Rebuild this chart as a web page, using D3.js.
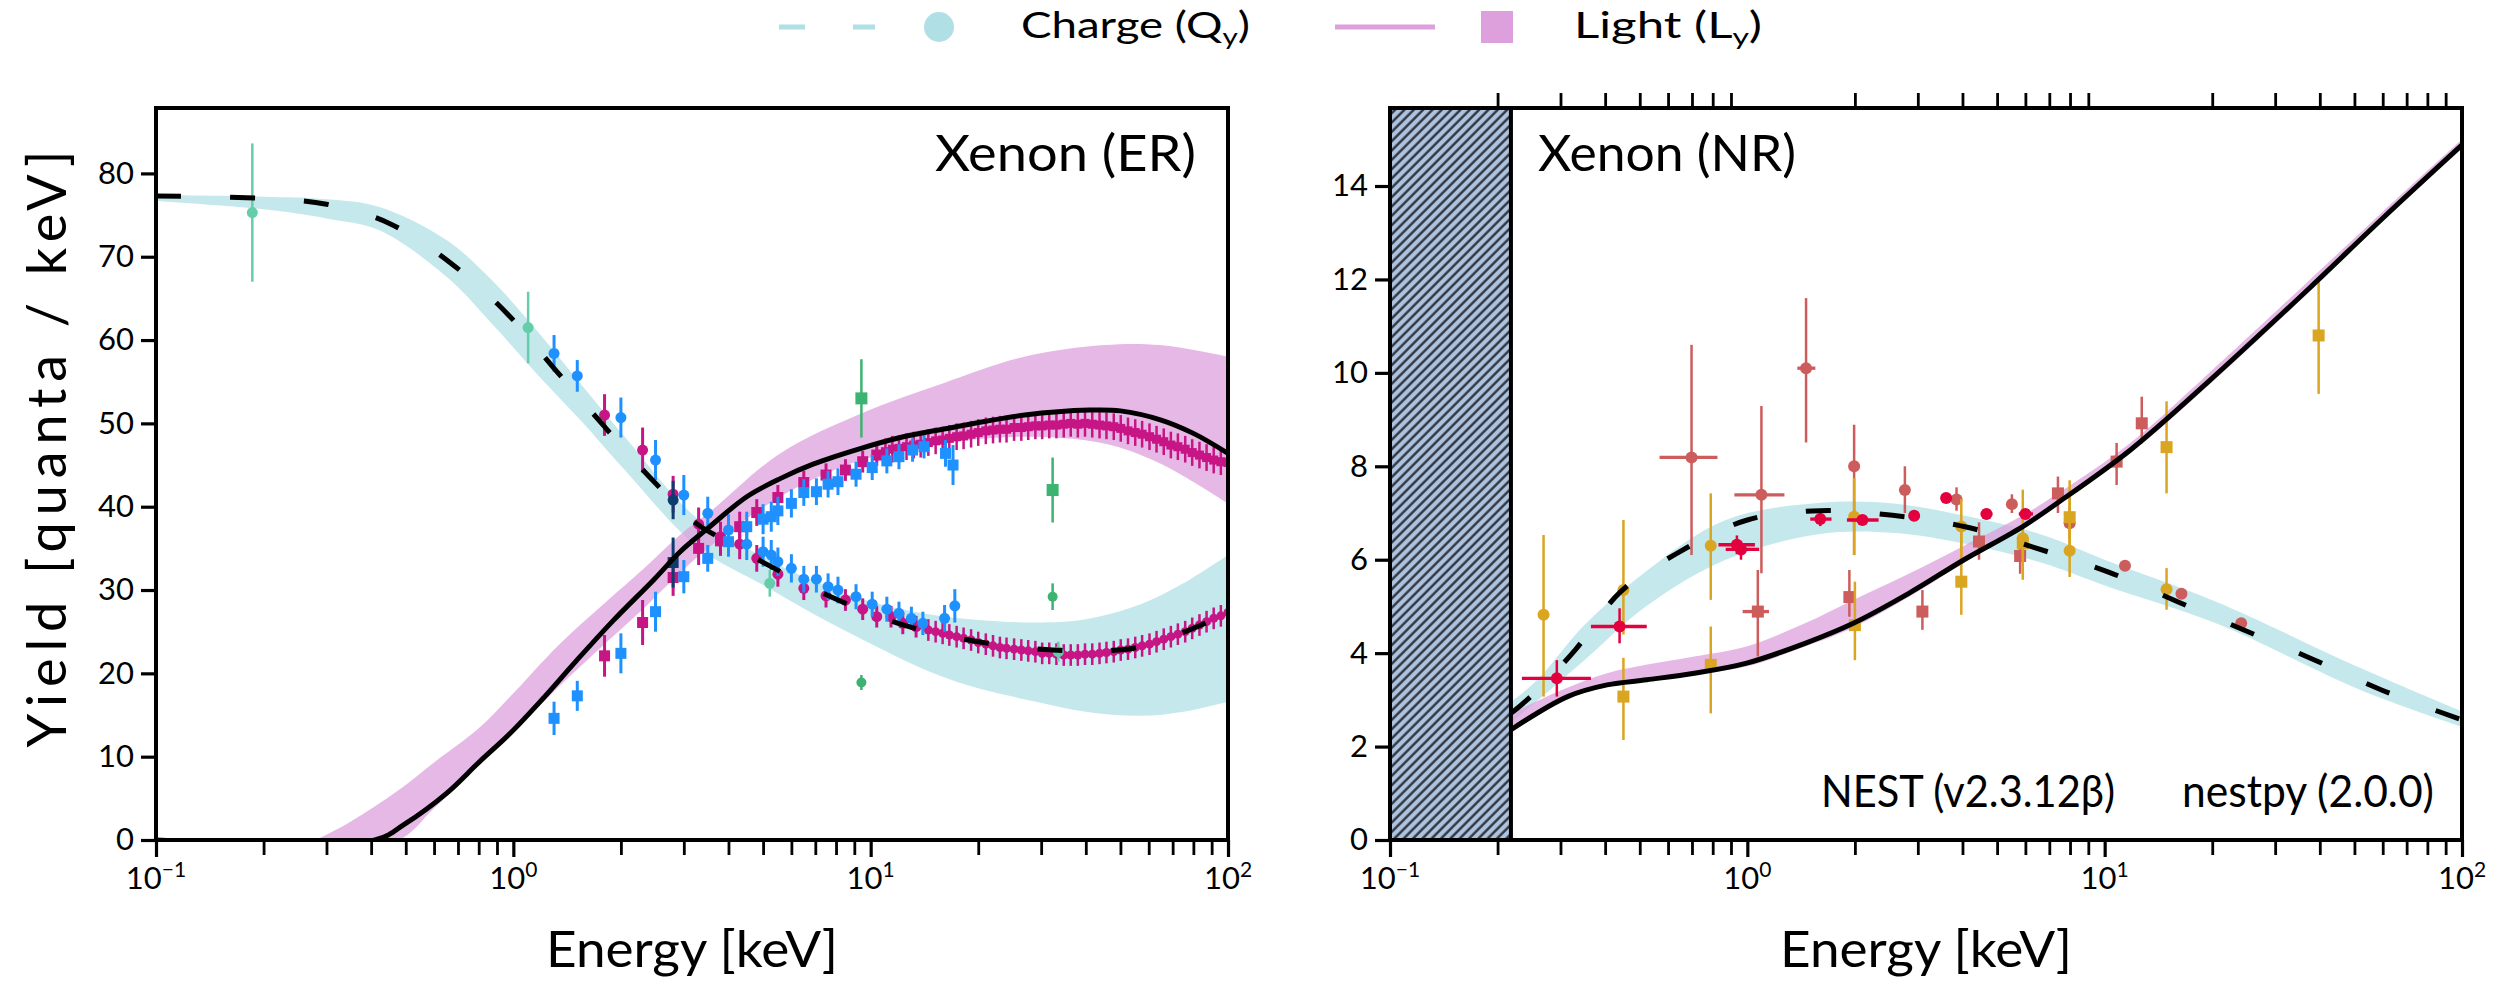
<!DOCTYPE html>
<html><head><meta charset="utf-8">
<script src="https://cdn.jsdelivr.net/npm/d3@7"></script>
<style>
body{margin:0;background:#fff}
svg{display:block}
text{font-family:Lato,"Noto Sans",sans-serif;fill:#000}
</style></head>
<body><svg id="c" width="2494" height="981"></svg>
<script>
// ================= DATA =================
const decadeTicks = [0.1, 1, 10, 100];
const decadeLabels = [["10","−1"],["10","0"],["10","1"],["10","2"]];
const minorTicks = [0.2,0.3,0.4,0.5,0.6,0.7,0.8,0.9,2,3,4,5,6,7,8,9,20,30,40,50,60,70,80,90];
const erYTicks = [0,10,20,30,40,50,60,70,80];
const nrYTicks = [0,2,4,6,8,10,12,14];
const panelTitles = ["Xenon (ER)", "Xenon (NR)"];
const versionLabels = ["NEST (v2.3.12β)", "nestpy (2.0.0)"];
const axisLabels = {x: "Energy [keV]", y: "Yield [quanta / keV]"};
const hatchMaxE = 0.218;

// ---- ER model curves [E, value] ----
const erQyLine = [[0.1,77.3],[0.2,77.0],[0.3,76.3],[0.45,74.0],[0.67,69.2],[0.96,63.2],[1.3,56.6],[1.8,49.6],[2.45,43.2],[3.25,38.0],[3.6,36.8],[5.06,33.2],[8.1,28.8],[12.8,25.6],[21.3,23.6],[32.3,22.8],[45,22.7],[57,23.2],[82,25.6],[100,27.4]];
const erLyLine = [[0.1,0],[0.41,0],[0.5,2.0],[0.65,5.6],[0.8,9.3],[0.98,12.8],[1.2,16.8],[1.5,21.5],[1.9,26.3],[2.48,31.3],[2.93,34.6],[3.5,37.4],[4.5,41.2],[5.6,43.4],[6.9,45.1],[9.4,47.0],[12.1,48.3],[15.9,49.3],[27,51.0],[41,51.6],[50,51.5],[65,50.4],[80,48.8],[100,46.4]];
// ---- ER bands [E, low, high] ----
const erQyBand = [[0.1,76.7,77.4],[0.2,75.7,77.2],[0.3,74.6,76.9],[0.42,73.2,76.0],[0.65,67.6,72.0],[0.87,62.0,67.2],[1.16,56.0,61.2],[1.54,50.4,54.8],[2.05,44.4,48.4],[3.27,35.2,38.6],[5.0,30.6,34.0],[7.0,27.0,31.0],[10.4,23.2,28.4],[15,20.0,27.0],[20,18.2,26.4],[29,16.6,26.1],[40,15.4,26.5],[57,14.9,28.3],[75,15.4,30.8],[100,16.6,34.2]];
const erLyBand = [[0.28,0,0],[0.35,0,2.2],[0.478,0,6.0],[0.6,3.8,9.3],[0.8,8.9,13.4],[1.0,12.9,17.6],[1.34,18.4,23.4],[1.8,23.5,28.4],[2.24,27.2,32.0],[3.0,32.5,37.0],[3.6,35.4,39.6],[5.58,41.2,46.4],[9.4,45.6,51.2],[15.9,47.6,54.8],[26.9,48.4,58.0],[45,47.6,59.4],[64.6,45.2,59.4],[100,40.4,58.0]];

// ---- ER measurements [E, value, error] ----
const erBlueQy = [[1.30,58.4,2.2],[1.51,55.7,1.9],[2.0,50.7,2.4],[2.5,45.6,2.4],[3.0,41.4,2.4],[3.5,39.2,2.0],[4.0,37.2,1.9],[4.5,35.5,1.9],[5.0,34.6,1.8],[5.27,34.2,1.8],[5.5,33.4,1.7],[6.0,32.6,1.7],[6.5,31.3,1.6],[7.05,31.3,1.6],[7.6,30.4,1.6],[8.1,30.0,1.6],[9.1,29.2,1.5],[10.1,28.3,1.5],[11.1,27.7,1.5],[12.0,27.2,1.4],[13.0,26.6,1.4],[14.0,26.0,1.4],[16.1,26.6,1.6],[17.2,28.1,2.0]];
const erBlueLy = [[1.30,14.6,2.0],[1.51,17.3,1.8],[2.0,22.4,2.4],[2.5,27.4,2.4],[3.0,31.6,2.0],[3.5,33.8,1.6],[4.0,35.8,1.8],[4.5,37.6,1.8],[5.0,38.5,1.8],[5.27,38.8,1.8],[5.5,39.5,1.7],[6.0,40.4,1.7],[6.5,41.7,1.6],[7.05,41.8,1.6],[7.6,42.7,1.6],[8.1,43.0,1.6],[9.1,43.9,1.5],[10.1,44.7,1.5],[11.1,45.5,1.5],[12.0,46.0,1.5],[13.1,46.8,1.4],[14.1,47.2,1.4],[16.2,46.4,1.6],[17.0,45.0,2.4]];
const erMagQy = [[1.8,51.0,2.5],[2.3,46.8,2.7],[2.8,41.5,2.2],[3.3,37.9,2.0],[3.8,36.4,1.8],[4.3,35.5,1.8],[4.8,33.8,1.6],[5.5,31.9,1.5],[6.5,30.2,1.4],[7.5,29.3,1.4],[8.5,28.8,1.3],[9.5,27.7,1.3],[10.4,26.8,1.3],[11.4,26.8,1.3],[12.3,26.0,1.3],[13.4,25.6,1.3]];
const erMagLy = [[1.8,22.1,2.5],[2.3,26.1,2.7],[2.8,31.5,2.2],[3.3,35.0,2.0],[3.8,35.9,1.8],[4.3,37.6,1.8],[4.8,39.3,1.6],[5.5,41.1,1.5],[6.5,42.9,1.4],[7.5,43.8,1.4],[8.5,44.4,1.3],[9.5,45.4,1.3],[10.4,46.2,1.3]];
const erMagLyDense = [[11,46.6],[11.5,46.9],[12,47.0],[12.6,47.2],[13.2,47.4],[13.8,47.5],[14.5,47.7],[15.2,47.9],[15.9,48.0],[16.6,48.2],[17.4,48.4],[18.2,48.5],[19.1,48.7],[20,48.9],[21,49.1],[22,49.2],[23,49.3],[24,49.3],[25.2,49.5],[26.4,49.5],[27.6,49.6],[28.9,49.7],[30.2,49.7],[31.6,49.8],[33.1,49.8],[34.7,49.9],[36.3,50.0],[38,49.9],[39.8,50.0],[41.7,49.9],[43.7,49.8],[45.7,49.7],[47.9,49.6],[50.1,49.4],[52.5,49.1],[55,48.9],[57.5,48.7],[60.3,48.4],[63.1,48.1],[66.1,47.8],[69.2,47.4],[72.4,47.2],[75.9,46.9],[79.4,46.5],[83.2,46.2],[87.1,45.9],[91.2,45.6],[95.5,45.4],[100,45.3]];
const erMagQyDense = [[14.5,25.2],[15.2,25.0],[15.9,24.8],[16.6,24.6],[17.4,24.4],[18.2,24.2],[19.1,24.0],[20,23.7],[21,23.5],[22,23.3],[23,23.1],[24,23.0],[25.2,22.9],[26.4,22.8],[27.6,22.7],[28.9,22.6],[30.2,22.4],[31.6,22.4],[33.1,22.3],[34.7,22.2],[36.3,22.2],[38,22.2],[39.8,22.3],[41.7,22.3],[43.7,22.4],[45.7,22.5],[47.9,22.6],[50.1,22.8],[52.5,22.9],[55,23.1],[57.5,23.3],[60.3,23.5],[63.1,23.8],[66.1,24.1],[69.2,24.4],[72.4,24.7],[75.9,25.0],[79.4,25.4],[83.2,25.8],[87.1,26.2],[91.2,26.6],[95.5,26.9],[100,27.3]];
const erNavyQy = [[2.8,40.8,2.3]];
const erNavyLy = [[2.8,33.3,3.0]];
const erAquaQy = [[0.186,75.3,8.3],[1.1,61.5,4.3],[5.22,30.8,1.6],[33.5,22.6,1.2]];
const erSeaQy = [[9.42,18.9,0.9],[32.3,29.2,1.6]];
const erSeaLy = [[9.42,53.0,4.7],[32.3,42.0,3.9]];

// ---- NR model curves ----
const nrQyLine = [[0.218,2.71],[0.25,3.1],[0.33,4.07],[0.44,5.3],[0.63,6.12],[1.0,6.85],[1.6,7.05],[2.55,6.95],[4.1,6.7],[6.3,6.27],[10.3,5.73],[16,5.1],[24.8,4.48],[38.5,3.86],[60,3.2],[100,2.57]];
const nrLyLine = [[0.218,2.36],[0.314,3.07],[0.405,3.32],[0.523,3.43],[0.711,3.57],[0.99,3.78],[1.45,4.21],[1.98,4.64],[2.83,5.28],[4.04,6.0],[5.9,6.71],[7.46,7.24],[11.8,8.35],[19.3,9.78],[37,11.78],[60,13.31],[100,14.88]];
const nrQyBand = [[0.218,2.5,2.95],[0.26,3.0,3.45],[0.35,3.85,4.6],[0.52,5.0,5.75],[0.87,6.0,6.85],[1.6,6.55,7.22],[2.6,6.57,7.2],[4.0,6.35,6.95],[6.7,5.93,6.53],[10,5.45,6.0],[20.5,4.64,5.1],[52,3.21,3.68],[100,2.42,2.75]];
const nrLyBand = [[0.218,2.3,2.7],[0.3,2.95,3.2],[0.405,3.28,3.57],[0.52,3.4,3.75],[0.71,3.55,3.93],[1.0,3.72,4.15],[1.45,4.14,4.64],[1.98,4.55,5.14],[2.83,5.2,5.7],[4.04,5.93,6.3],[5.9,6.65,6.95],[7.5,7.2,7.45],[11.8,8.28,8.5],[19.3,9.7,9.95],[37,11.7,11.95],[60,13.25,13.45],[100,14.8,15.0]];

// ---- NR measurements [E, value, yLow, yHigh, xLow, xHigh] ----
const nrRedQy = [[0.698,8.19,6.1,10.6,0.568,0.825],[1.095,7.39,5.71,9.29,0.92,1.27],[1.46,10.1,8.51,11.6,1.38,1.55],[1.99,8.0,6.1,8.89,1.93,2.06],[2.76,7.49,7.0,8.0],[3.85,7.29,7.05,7.55],[5.5,7.19,7.0,7.4],[7.98,6.78,6.45,7.13],[11.4,5.87,5.77,5.97],[16.4,5.27,5.17,5.37],[24.1,4.64,4.56,4.72]];
const nrRedLy = [[1.07,4.89,3.93,5.78,0.97,1.15],[1.93,5.2,4.78,5.78],[3.09,4.89,4.5,5.35],[4.45,6.39,6.0,6.8],[5.8,6.08,5.7,6.45],[7.4,7.42,7.0,7.78],[10.8,8.1,7.6,8.5],[12.7,8.92,8.49,9.49]];
const nrCrimsonQy = [[0.293,3.46,3.07,3.85,0.234,0.365],[0.439,4.57,4.21,4.96,0.365,0.523],[0.935,6.32,6.12,6.52,0.83,1.05],[0.96,6.22,6.0,6.4,0.87,1.08],[1.6,6.87,6.72,7.02,1.5,1.72],[2.1,6.85,6.75,6.95,1.9,2.33],[2.93,6.94,6.85,7.03,2.85,3.02],[3.6,7.32,7.25,7.4,3.5,3.7],[4.67,6.98,6.9,7.06,4.5,4.85],[6.0,6.98,6.9,7.06,5.75,6.3]];
const nrGoldQy = [[0.269,4.82,3.07,6.53],[0.45,5.35,4.4,6.85],[0.79,6.3,5.14,7.42],[1.99,6.92,6.1,7.75],[3.97,6.71,5.9,7.3],[5.9,6.46,5.57,7.5],[7.98,6.19,5.63,7.7],[14.9,5.37,4.93,5.82]];
const nrGoldLy = [[0.45,3.07,2.14,3.9],[0.79,3.75,2.71,4.57],[2.0,4.6,3.85,5.53],[3.97,5.53,4.82,6.57],[5.9,6.35,6.0,6.7],[7.98,6.91,6.3,7.5],[14.9,8.41,7.42,9.39],[39.7,10.8,9.55,12.03]];

// ================= COLOURS =================
const C = {qyBand:"#b0e0e6", lyBand:"#dda0dd", blue:"#1e90ff", mag:"#c71585", navy:"#0b3d6e",
  aqua:"#66cdaa", sea:"#3cb371", red:"#cd5c5c", crimson:"#e3003f", gold:"#daa520", hatch:"#adc2de"};

// ================= DRAW =================
const svg = d3.select("#c");
const defs = svg.append("defs");
const pat = defs.append("pattern").attr("id","hatch").attr("patternUnits","userSpaceOnUse")
  .attr("width",6.6).attr("height",6.6).attr("patternTransform","rotate(45)");
pat.append("rect").attr("width",6.6).attr("height",6.6).attr("fill",C.hatch);
pat.append("line").attr("x1",1.5).attr("x2",1.5).attr("y1",0).attr("y2",6.6).attr("stroke","#2b2f36").attr("stroke-width",2.3);

const smooth = d3.curveCatmullRom.alpha(0.5);
const panels = [
  {id:"er", x:d3.scaleLog().domain([0.1,100]).range([156,1228]), y:d3.scaleLinear().domain([0,87.85]).range([840,108]), yTicks:erYTicks},
  {id:"nr", x:d3.scaleLog().domain([0.1,100]).range([1390,2462]), y:d3.scaleLinear().domain([0,15.67]).range([840,108]), yTicks:nrYTicks}
];
panels.forEach(p=>{
  const [x0,x1]=p.x.range(), [y0,y1]=p.y.range();
  defs.append("clipPath").attr("id","clip-"+p.id).append("rect").attr("x",x0).attr("y",y1).attr("width",x1-x0).attr("height",y0-y1);
});

function band(g,p,data,color){
  g.append("path").datum(data).attr("fill",color).attr("fill-opacity",0.75)
   .attr("d", d3.area().x(d=>p.x(d[0])).y0(d=>p.y(d[1])).y1(d=>p.y(d[2])).curve(smooth));
}
function curve(g,p,data,dashed){
  g.append("path").datum(data).attr("fill","none").attr("stroke","#000").attr("stroke-width",5)
   .attr("stroke-dasharray", dashed ? "25,49" : null)
   .attr("d", d3.line().x(d=>p.x(d[0])).y(d=>p.y(d[1])).curve(smooth));
}
function sym(rows){ return rows.map(r=>[r[0],r[1],r[1]-r[2],r[1]+r[2]]); }
function series(g,p,rows,color,shape,size,ew){
  const s=g.append("g");
  s.selectAll("line.ey").data(rows.filter(r=>r[2]!=null)).join("line").attr("class","ey")
    .attr("x1",d=>p.x(d[0])).attr("x2",d=>p.x(d[0])).attr("y1",d=>p.y(d[2])).attr("y2",d=>p.y(d[3]))
    .attr("stroke",color).attr("stroke-width",ew);
  s.selectAll("line.ex").data(rows.filter(r=>r[4]!=null)).join("line").attr("class","ex")
    .attr("x1",d=>p.x(d[4])).attr("x2",d=>p.x(d[5])).attr("y1",d=>p.y(d[1])).attr("y2",d=>p.y(d[1]))
    .attr("stroke",color).attr("stroke-width",ew+0.8);
  if(shape==="c"){
    s.selectAll("circle").data(rows).join("circle").attr("cx",d=>p.x(d[0])).attr("cy",d=>p.y(d[1])).attr("r",size/2).attr("fill",color);
  } else {
    s.selectAll("rect").data(rows).join("rect").attr("x",d=>p.x(d[0])-size/2).attr("y",d=>p.y(d[1])-size/2)
      .attr("width",size).attr("height",size).attr("fill",color);
  }
}
function axes(p, topMinor){
  const [x0,x1]=p.x.range(), [y0,y1]=p.y.range();
  const g=svg.append("g");
  const bMaj=g.append("g").attr("transform",`translate(0,${y0})`).call(d3.axisBottom(p.x).tickValues(decadeTicks).tickSize(17).tickFormat(""));
  const bMin=g.append("g").attr("transform",`translate(0,${y0})`).call(d3.axisBottom(p.x).tickValues(minorTicks).tickSize(15).tickFormat(""));
  bMaj.selectAll("line").attr("stroke-width",3.2); bMin.selectAll("line").attr("stroke-width",2.8);
  if(topMinor){
    const t=g.append("g").attr("transform",`translate(0,${y1})`).call(d3.axisTop(p.x).tickValues(minorTicks).tickSize(15).tickFormat(""));
    t.selectAll("line").attr("stroke-width",2.8); t.select(".domain").remove();
  }
  const l=g.append("g").attr("transform",`translate(${x0},0)`).call(d3.axisLeft(p.y).tickValues(p.yTicks).tickSize(15).tickPadding(7));
  l.selectAll("line").attr("stroke-width",3.2);
  l.selectAll("text").attr("font-size",31).attr("font-family","Lato");
  g.selectAll(".domain").remove();
  decadeTicks.forEach((v,i)=>{
    const t=g.append("text").attr("x",p.x(v)).attr("y",889).attr("text-anchor","middle").attr("font-size",31);
    t.append("tspan").text(decadeLabels[i][0]);
    t.append("tspan").attr("font-size",21).attr("dy",-12).text(decadeLabels[i][1]);
  });
  g.append("rect").attr("x",x0).attr("y",y1).attr("width",x1-x0).attr("height",y0-y1)
    .attr("fill","none").attr("stroke","#000").attr("stroke-width",4);
  g.append("text").attr("x",(x0+x1)/2).attr("y",967).attr("text-anchor","middle").attr("font-size",51)
    .attr("textLength",292).attr("lengthAdjust","spacingAndGlyphs").text(axisLabels.x);
  return g;
}

// ---- ER panel ----
{
  const p=panels[0];
  const g=svg.append("g").attr("clip-path","url(#clip-er)");
  band(g,p,erQyBand,C.qyBand);
  band(g,p,erLyBand,C.lyBand);
  series(g,p,erMagLyDense.map(d=>[d[0],d[1],d[1]-1.6,d[1]+1.6]),C.mag,"s",9,2.5);
  series(g,p,erMagQyDense.map(d=>[d[0],d[1],d[1]-1.3,d[1]+1.3]),C.mag,"c",9,2.5);
  series(g,p,sym(erMagQy),C.mag,"c",11,3);
  series(g,p,sym(erMagLy),C.mag,"s",11,3);
  series(g,p,sym(erBlueQy),C.blue,"c",11,3);
  series(g,p,sym(erBlueLy),C.blue,"s",11,3);
  series(g,p,sym(erNavyQy),C.navy,"c",11,3);
  series(g,p,sym(erNavyLy),C.navy,"s",11,3);
  series(g,p,sym(erAquaQy),C.aqua,"c",11,2.5);
  series(g,p,sym(erSeaQy),C.sea,"c",10,2.5);
  series(g,p,sym(erSeaLy),C.sea,"s",12,2.5);
  curve(g,p,erLyLine,false);
  curve(g,p,erQyLine,true);
  axes(p,false);
  svg.append("text").attr("x",1196).attr("y",171).attr("text-anchor","end").attr("font-size",50)
    .attr("textLength",261).attr("lengthAdjust","spacingAndGlyphs").text(panelTitles[0]);
  svg.append("text").attr("transform","translate(66,449) rotate(-90)").attr("text-anchor","middle").attr("font-size",54)
    .attr("textLength",597).attr("lengthAdjust","spacing").text(axisLabels.y);
}

// ---- NR panel ----
{
  const p=panels[1];
  const g=svg.append("g").attr("clip-path","url(#clip-nr)");
  band(g,p,nrQyBand,C.qyBand);
  band(g,p,nrLyBand,C.lyBand);
  series(g,p,nrRedQy,C.red,"c",12,2.5);
  series(g,p,nrRedLy,C.red,"s",12,2.5);
  series(g,p,nrGoldLy,C.gold,"s",12,2.5);
  series(g,p,nrGoldQy,C.gold,"c",12,2.5);
  series(g,p,nrCrimsonQy,C.crimson,"c",12,2.5);
  curve(g,p,nrLyLine,false);
  curve(g,p,nrQyLine,true);
  const [x0]=p.x.range(), [y0,y1]=p.y.range();
  g.append("rect").attr("x",x0).attr("y",y1).attr("width",p.x(hatchMaxE)-x0).attr("height",y0-y1)
    .attr("fill","url(#hatch)").attr("stroke","#000").attr("stroke-width",4);
  axes(p,true);
  svg.append("text").attr("x",1538).attr("y",171).attr("font-size",50)
    .attr("textLength",258).attr("lengthAdjust","spacingAndGlyphs").text(panelTitles[1]);
  svg.append("text").attr("x",1821).attr("y",807).attr("font-size",44)
    .attr("textLength",294).attr("lengthAdjust","spacingAndGlyphs").text(versionLabels[0]);
  svg.append("text").attr("x",2182).attr("y",807).attr("font-size",44)
    .attr("textLength",252).attr("lengthAdjust","spacingAndGlyphs").text(versionLabels[1]);
}

// ---- Legend ----
{
  const lg=svg.append("g");
  lg.append("line").attr("x1",779).attr("x2",875).attr("y1",27).attr("y2",27).attr("stroke",C.qyBand).attr("stroke-width",5).attr("stroke-dasharray","26,48");
  lg.append("circle").attr("cx",939).attr("cy",27).attr("r",15).attr("fill",C.qyBand);
  const t1=lg.append("text").attr("x",1021).attr("y",38).attr("font-size",37)
    .attr("textLength",229).attr("lengthAdjust","spacingAndGlyphs");
  t1.append("tspan").text("Charge (Q"); t1.append("tspan").attr("font-size",24).attr("dy",7).text("y"); t1.append("tspan").attr("dy",-7).text(")");
  lg.append("line").attr("x1",1335).attr("x2",1435).attr("y1",27).attr("y2",27).attr("stroke",C.lyBand).attr("stroke-width",5);
  lg.append("rect").attr("x",1481).attr("y",11).attr("width",32).attr("height",32).attr("fill",C.lyBand);
  const t2=lg.append("text").attr("x",1574).attr("y",38).attr("font-size",37)
    .attr("textLength",188).attr("lengthAdjust","spacingAndGlyphs");
  t2.append("tspan").text("Light (L"); t2.append("tspan").attr("font-size",24).attr("dy",7).text("y"); t2.append("tspan").attr("dy",-7).text(")");
}
</script></body></html>
